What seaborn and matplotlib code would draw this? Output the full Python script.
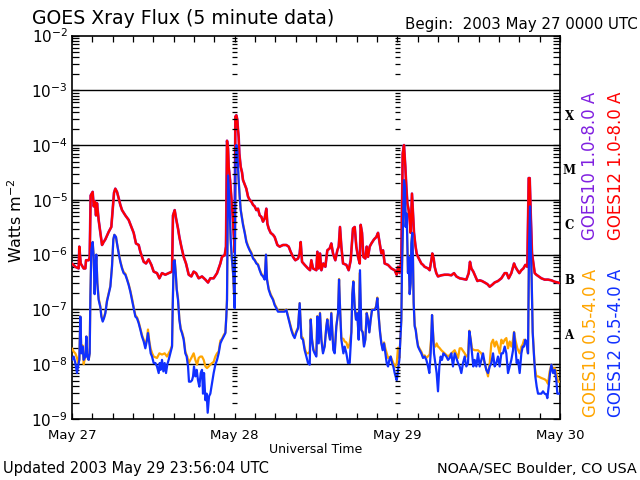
import numpy as np
import pandas as pd
import matplotlib
matplotlib.use("Agg")
import matplotlib.pyplot as plt
import matplotlib.ticker as mticker
import matplotlib.transforms as mtrans
import seaborn as sns

# ---------------- data (hours since 2003 May 27 00:00 UTC, flux W m^-2) ----------------
red_day1 = [(0.0,6.9e-7),(0.49,6.0e-7),(0.98,5.6e-7),(1.08,1.4e-6),(1.28,6.9e-7),(1.72,5.6e-7),(1.97,5.6e-7),
            (2.07,7.9e-7),(2.46,7.9e-7),(2.61,9.0e-7),(2.75,1.2e-5),(3.05,1.4e-5),(3.2,7.6e-6),(3.39,9.3e-6),
            (3.54,5.2e-6),(3.69,8.7e-6),(3.93,4.3e-6),(4.18,2.5e-6),(4.43,1.5e-6),(4.67,1.7e-6),(4.92,1.9e-6),
            (5.41,2.6e-6),(5.80,3.2e-6),(6.0,6.5e-6),(6.2,1.35e-5),(6.39,1.6e-5),(6.64,1.4e-5),(6.89,1.07e-5),
            (7.13,8.1e-6),(7.38,6.5e-6),(7.87,5.2e-6),(8.36,4.3e-6),(8.76,3.2e-6),(9.10,2.5e-6),(9.44,1.6e-6),
            (9.84,1.5e-6),(10.08,1.13e-6),(10.33,9.1e-7),(10.58,7.4e-7),(10.92,6.9e-7),(11.31,8.2e-7),(11.71,6.5e-7),
            (12.05,4.9e-7),(12.54,4.6e-7),(12.89,3.7e-7),(13.28,4.6e-7),(13.77,4.3e-7),(14.26,4.6e-7),(14.76,4.9e-7),
            (14.90,5.2e-6),(15.15,6.5e-6),(15.35,4.6e-6),(15.64,3.0e-6),(15.84,2.1e-6),(16.13,1.4e-6),(16.48,9.1e-7),
            (16.82,6.9e-7),(17.22,4.3e-7),(17.61,4.0e-7),(17.95,4.9e-7),(18.30,4.6e-7),(18.69,3.7e-7),(19.18,4.0e-7),
            (19.68,3.5e-7),(20.07,3.1e-7),(20.41,3.7e-7),(20.90,3.7e-7),(21.40,4.6e-7),(21.89,6.9e-7),(22.13,9.1e-7),
            (22.53,9.8e-7),(22.72,1.4e-6),(22.87,1.2e-4),(23.02,8.7e-5),(23.12,4.0e-5),(23.32,2.3e-5),(23.51,1.1e-5),
            (23.71,5.0e-6),(23.9,2.0e-6),(24.0,1.1e-6)]
red_day2 = [(24.10,3.3e-4),(24.25,3.5e-4),(24.39,2.9e-4),(24.49,1.9e-4),(24.59,1.4e-4),(24.69,7.0e-5),(24.89,4.0e-5),
            (25.08,3.2e-5),(25.23,2.3e-5),(25.48,1.9e-5),(25.72,1.6e-5),(25.97,1.15e-5),(26.21,1.0e-5),(26.46,9.3e-6),
            (26.71,8.1e-6),(26.95,7.6e-6),(27.2,6.5e-6),(27.44,6.9e-6),(27.69,5.2e-6),(27.94,4.9e-6),(28.18,4.0e-6),
            (28.43,4.6e-6),(28.67,6.9e-6),(28.82,3.7e-6),(29.02,3.0e-6),(29.31,2.5e-6),(29.66,2.3e-6),(29.9,2.1e-6),
            (30.3,1.5e-6),(30.64,1.4e-6),(31.13,1.5e-6),(31.62,1.5e-6),(31.97,1.4e-6),(32.26,1.13e-6),(32.61,9.1e-7),
            (32.95,7.9e-7),(33.35,8.5e-7),(33.59,1.05e-6),(33.74,1.7e-6),(33.94,7.4e-7),(34.33,6.5e-7),(34.82,5.6e-7),
            (35.12,5.2e-7),(35.31,7.9e-7),(35.56,5.6e-7),(36.05,5.2e-7),(36.2,1.13e-6),(36.4,5.6e-7),(36.59,1.05e-6),
            (36.79,5.2e-7),(37.08,6.9e-7),(37.38,6.0e-7),(37.67,1.2e-6),(38.02,1.3e-6),(38.26,1.6e-6),(38.51,1.05e-6),
            (38.85,7.9e-7),(39.15,1.2e-6),(39.35,1.4e-6),(39.54,3.2e-6),(39.74,1.4e-6),(39.99,6.9e-7),(40.48,6.5e-7),
            (40.82,5.2e-7),(41.12,7.9e-7),(41.46,3.0e-6),(41.71,3.2e-6),(41.95,1.4e-6),(42.2,9.1e-7),(42.45,6.9e-7),
            (42.59,3.5e-6),(42.79,2.5e-6),(42.99,9.1e-7),(43.28,8.5e-7),(43.48,1.4e-6),(43.68,9.1e-7),(43.92,1.4e-6),
            (44.17,1.6e-6),(44.56,1.9e-6),(44.9,2.1e-6),(45.15,2.5e-6),(45.4,1.6e-6),(45.64,1.05e-6),(45.89,1.2e-6),
            (46.13,6.9e-7),(46.62,6.5e-7),(47.12,5.6e-7),(47.61,5.2e-7),(47.9,4.3e-7),(48.0,5.0e-7)]
red_day3 = [(48.1,6.0e-7),(48.34,4.6e-7),(48.59,7.9e-7),(48.79,7.0e-5),(48.98,1.0e-4),(49.18,4.0e-5),(49.33,1.7e-5),
            (49.48,8.7e-6),(49.67,6.5e-6),(49.82,4.3e-6),(49.97,2.5e-6),(50.16,1.3e-5),(50.31,5.6e-6),(50.46,2.5e-6),
            (50.66,1.5e-6),(50.85,1.05e-6),(51.05,9.1e-7),(51.3,7.9e-7),(51.54,6.9e-7),(51.79,6.5e-7),(52.03,6.0e-7),
            (52.53,5.6e-7),(52.77,5.2e-7),(53.02,7.9e-7),(53.16,1.05e-6),(53.36,8.5e-7),(53.51,6.0e-7),(53.75,4.6e-7),
            (54.0,4.0e-7),(54.49,4.2e-7),(54.98,4.3e-7),(55.48,4.3e-7),(55.97,4.2e-7),(56.36,4.6e-7),(56.71,4.0e-7),
            (57.2,3.7e-7),(57.69,3.6e-7),(58.18,3.5e-7),(58.53,4.6e-7),(58.72,7.4e-7),(58.92,5.6e-7),(59.21,4.9e-7),
            (59.51,4.0e-7),(59.81,3.3e-7),(60.15,3.4e-7),(60.49,3.3e-7),(60.89,3.1e-7),(61.28,2.9e-7),(61.63,2.6e-7),
            (61.97,2.8e-7),(62.36,3.1e-7),(62.85,3.3e-7),(63.35,3.7e-7),(63.84,4.6e-7),(64.13,4.6e-7),(64.43,3.7e-7),
            (64.82,4.6e-7),(65.22,6.9e-7),(65.41,6.0e-7),(65.71,5.2e-7),(66.0,4.6e-7),(66.3,5.2e-7),(66.59,5.6e-7),
            (66.89,6.5e-7),(67.18,6.0e-7),(67.38,2.5e-5),(67.53,2.5e-5),(67.68,5.6e-6),(67.87,1.05e-6),(68.07,6.9e-7),
            (68.27,4.6e-7),(68.51,4.3e-7),(68.86,4.0e-7),(69.25,3.7e-7),(69.74,3.5e-7),(70.23,3.5e-7),(70.73,3.4e-7),
            (71.22,3.2e-7),(71.71,3.1e-7),(72.0,3.0e-7)]

blue_day1 = [(0.0,1.2e-8),(0.25,1.38e-8),(0.49,1.05e-8),(0.74,6.9e-9),(0.89,9.1e-9),(1.08,1.2e-8),(1.23,7.4e-8),
             (1.38,1.58e-8),(1.57,2.1e-8),(1.72,1.2e-8),(1.97,1.38e-8),(2.12,3.2e-8),(2.26,1.38e-8),(2.46,1.2e-8),
             (2.61,1.58e-8),(2.71,1.7e-7),(2.85,1.2e-6),(3.05,1.7e-6),(3.2,9.1e-7),(3.34,1.9e-7),(3.44,4.6e-7),
             (3.59,1.0e-6),(3.74,3.0e-7),(3.93,1.5e-7),(4.18,1.1e-7),(4.33,7.4e-8),(4.53,6.0e-8),(4.72,6.9e-8),
             (4.92,8.5e-8),(5.16,1.4e-7),(5.41,1.9e-7),(5.66,2.6e-7),(5.9,6.0e-7),(6.1,1.9e-6),(6.25,2.3e-6),
             (6.49,2.1e-6),(6.64,1.6e-6),(6.89,1.05e-6),(7.13,7.4e-7),(7.38,5.6e-7),(7.62,4.6e-7),(7.87,4.3e-7),
             (8.12,3.5e-7),(8.36,2.8e-7),(8.61,2.1e-7),(8.85,1.5e-7),(9.1,1.05e-7),(9.35,7.4e-8),(9.59,6.9e-8),
             (9.84,5.6e-8),(10.08,4.3e-8),(10.33,3.2e-8),(10.58,2.6e-8),(10.82,1.95e-8),(11.07,2.8e-8),(11.21,3.7e-8),
             (11.41,2.4e-8),(11.61,1.58e-8),(11.81,1.38e-8),(12.05,1.05e-8),(12.3,1.05e-8),(12.54,9.1e-9),(12.79,6.9e-9),
             (12.94,1.05e-8),(13.08,7.9e-9),(13.28,1.2e-8),(13.48,7.4e-9),(13.67,1.05e-8),(13.87,6.9e-9),(14.07,1.0e-8),
             (14.26,1.2e-8),(14.51,1.58e-8),(14.76,2.1e-8),(14.85,9.8e-8),(15.0,7.4e-7),(15.15,7.9e-7),(15.3,4.6e-7),
             (15.45,2.3e-7),(15.64,1.5e-7),(15.84,6.5e-8),(16.04,4.3e-8),(16.23,3.7e-8),(16.48,2.8e-8),(16.72,1.58e-8),
             (16.92,1.38e-8),(17.12,9.1e-9),(17.26,4.8e-9),(17.51,4.8e-9),(17.71,5.1e-9),(17.86,6.0e-9),(18.0,9.1e-9),
             (18.2,6.0e-9),(18.4,7.9e-9),(18.59,5.1e-9),(18.79,3.9e-9),(18.99,6.9e-9),(19.18,7.9e-9),(19.33,2.9e-9),
             (19.48,6.9e-9),(19.68,2.2e-9),(19.87,2.9e-9),(20.02,1.3e-9),(20.22,2.6e-9),(20.41,2.9e-9),(20.66,4.5e-9),
             (20.9,6.9e-9),(21.15,9.8e-9),(21.4,1.2e-8),(21.64,1.58e-8),(21.89,2.4e-8),(22.13,2.8e-8),(22.38,3.2e-8),
             (22.63,3.7e-8),(22.77,7.4e-8),(22.87,1.5e-7),(23.02,2.8e-5),(23.22,1.0e-5),(23.41,1.9e-6),(23.61,7.9e-7),
             (23.81,4.0e-7),(24.0,1.05e-7)]
blue_day2 = [(24.1,4.0e-5),(24.25,1.0e-4),(24.39,8.1e-5),(24.49,4.0e-5),(24.59,2.3e-5),(24.74,1.15e-5),(24.89,6.5e-6),
             (25.08,4.6e-6),(25.23,3.5e-6),(25.48,2.5e-6),(25.72,1.7e-6),(25.97,1.4e-6),(26.21,1.2e-6),(26.46,1.05e-6),
             (26.71,8.5e-7),(26.95,7.9e-7),(27.2,6.9e-7),(27.44,6.5e-7),(27.69,5.2e-7),(27.94,4.3e-7),(28.18,4.0e-7),
             (28.43,3.5e-7),(28.62,1.0e-6),(28.77,3.5e-7),(29.02,2.3e-7),(29.31,1.8e-7),(29.66,1.5e-7),(29.9,1.2e-7),
             (30.15,1.05e-7),(30.39,9.1e-8),(30.89,9.1e-8),(31.38,9.1e-8),(31.62,9.8e-8),(31.87,7.4e-8),(32.12,5.6e-8),
             (32.36,4.2e-8),(32.61,3.4e-8),(32.85,3.0e-8),(33.1,3.8e-8),(33.35,4.5e-8),(33.59,1.3e-7),(33.84,3.0e-8),
             (34.08,2.8e-8),(34.33,1.8e-8),(34.58,1.38e-8),(34.82,1.05e-8),(35.07,9.8e-9),(35.22,6.5e-8),(35.41,2.8e-8),
             (35.61,1.8e-8),(35.8,1.58e-8),(36.05,1.38e-8),(36.2,7.4e-8),(36.4,2.4e-8),(36.59,8.5e-8),(36.79,2.8e-8),
             (37.03,1.58e-8),(37.28,2.1e-8),(37.53,4.9e-8),(37.67,6.5e-8),(37.87,3.8e-8),(38.07,2.8e-8),(38.26,8.5e-8),
             (38.41,3.8e-8),(38.56,1.8e-8),(38.76,1.58e-8),(39.0,4.9e-8),(39.25,8.5e-8),(39.4,3.5e-7),(39.54,1.1e-7),
             (39.74,2.8e-8),(40.04,1.58e-8),(40.23,2.1e-8),(40.48,1.58e-8),(40.72,1.05e-8),(40.97,1.05e-8),(41.22,3.8e-8),
             (41.36,1.9e-7),(41.51,3.2e-7),(41.71,1.1e-7),(41.9,6.5e-8),(42.1,8.5e-8),(42.3,2.8e-8),(42.49,5.2e-7),
             (42.69,4.2e-8),(42.89,3.8e-8),(43.08,2.1e-8),(43.28,2.8e-8),(43.48,8.5e-8),(43.68,6.5e-8),(43.87,3.8e-8),
             (44.07,6.5e-8),(44.27,9.8e-8),(44.46,9.8e-8),(44.66,9.8e-8),(44.86,1.1e-7),(45.05,1.6e-7),(45.25,7.4e-8),
             (45.45,3.8e-8),(45.64,2.4e-8),(45.84,1.8e-8),(46.04,2.4e-8),(46.23,1.58e-8),(46.43,1.05e-8),(46.63,9.1e-9),
             (46.82,1.2e-8),(47.02,1.38e-8),(47.22,1.05e-8),(47.41,9.1e-9),(47.61,6.9e-9),(47.9,5.1e-9),(48.0,6.0e-9)]
blue_day3 = [(48.1,7.9e-9),(48.3,1.2e-8),(48.49,3.8e-8),(48.59,6.5e-8),(48.69,6.0e-7),(48.84,4.3e-6),(48.98,2.3e-5),
             (49.13,1.7e-5),(49.23,3.2e-6),(49.38,5.6e-6),(49.48,1.4e-6),(49.57,4.6e-7),(49.67,9.1e-7),(49.82,1.9e-7),
             (49.97,3.0e-7),(50.07,1.6e-6),(50.21,2.5e-6),(50.31,7.9e-7),(50.41,1.3e-7),(50.56,4.9e-8),(50.71,4.2e-8),
             (50.85,3.0e-8),(51.05,2.1e-8),(51.3,1.8e-8),(51.54,1.58e-8),(51.79,1.3e-8),(52.03,1.38e-8),(52.28,1.2e-8),
             (52.53,9.1e-9),(52.72,6.9e-9),(52.92,1.58e-8),(53.12,7.9e-8),(53.26,3.8e-8),(53.41,1.58e-8),(53.61,1.05e-8),
             (53.8,6.9e-9),(54.0,3.2e-9),(54.2,9.1e-9),(54.39,1.38e-8),(54.59,1.2e-8),(54.79,1.58e-8),(54.98,1.5e-8),
             (55.23,1.38e-8),(55.48,1.2e-8),(55.72,1.3e-8),(55.97,1.58e-8),(56.21,9.1e-9),(56.46,1.58e-8),(56.71,1.3e-8),
             (56.95,1.05e-8),(57.2,9.1e-9),(57.44,6.9e-9),(57.69,1.05e-8),(57.94,1.38e-8),(58.18,9.1e-9),(58.43,1.05e-8),
             (58.62,4.0e-8),(58.82,2.8e-8),(59.02,1.58e-8),(59.21,9.1e-9),(59.41,1.2e-8),(59.66,9.1e-9),(59.9,1.58e-8),
             (60.15,9.1e-9),(60.4,1.2e-8),(60.64,1.58e-8),(60.89,1.05e-8),(61.13,7.9e-9),(61.38,6.9e-9),(61.63,9.1e-9),
             (61.87,1.05e-8),(62.12,1.58e-8),(62.36,9.1e-9),(62.61,1.05e-8),(62.85,1.38e-8),(63.1,9.1e-9),(63.35,1.58e-8),
             (63.59,1.58e-8),(63.84,2.1e-8),(64.08,1.58e-8),(64.33,6.9e-9),(64.58,9.1e-9),(64.82,1.2e-8),(65.07,1.8e-8),
             (65.22,3.8e-8),(65.41,2.1e-8),(65.61,1.05e-8),(65.81,1.2e-8),(66.05,6.9e-9),(66.3,1.58e-8),(66.5,2.1e-8),
             (66.69,2.1e-8),(66.89,2.8e-8),(67.08,2.4e-8),(67.28,1.58e-8),(67.43,1.4e-6),(67.58,7.6e-6),(67.67,1.9e-6),
             (67.82,3.5e-7),(67.97,3.8e-8),(68.17,1.38e-8),(68.36,6.0e-9),(68.56,3.9e-9),(68.76,2.9e-9),(69.0,2.9e-9),
             (69.25,2.9e-9),(69.49,3.2e-9),(69.74,2.9e-9),(69.99,2.8e-9),(70.13,2.4e-9),(70.33,3.9e-9),(70.53,6.9e-9),
             (70.73,9.8e-9),(70.97,6.9e-9),(71.22,7.9e-9),(71.46,5.1e-9),(71.61,2.9e-9),(71.8,2.9e-9),(72.0,2.9e-9)]

orange_day1 = [(0.0,1.95e-8),(0.25,1.7e-8),(0.49,1.58e-8),(0.74,1.3e-8),(0.89,1.05e-8),(1.08,1.2e-8),(1.23,7.4e-8),
               (1.38,1.7e-8),(1.57,2.2e-8),(1.72,1.0e-8),(1.97,1.4e-8),(2.12,3.2e-8),(2.26,1.4e-8),(2.46,1.2e-8),
               (2.61,1.6e-8),(2.71,1.7e-7),(2.85,1.2e-6),(3.05,1.7e-6),(3.2,9.1e-7),(3.34,2.0e-7),(3.44,4.6e-7),
               (3.59,1.0e-6),(3.74,3.1e-7),(3.93,1.6e-7),(4.18,1.15e-7),(4.33,7.8e-8),(4.53,6.3e-8),(4.72,7.2e-8),
               (4.92,8.8e-8),(5.16,1.45e-7),(5.41,2.0e-7),(5.66,2.7e-7),(5.9,6.2e-7),(6.1,1.9e-6),(6.25,2.3e-6),
               (6.49,2.1e-6),(6.64,1.6e-6),(6.89,1.1e-6),(7.13,7.6e-7),(7.38,5.8e-7),(7.62,4.8e-7),(7.87,4.5e-7),
               (8.12,3.6e-7),(8.36,2.9e-7),(8.61,2.2e-7),(8.85,1.6e-7),(9.1,1.1e-7),(9.35,7.8e-8),(9.59,7.2e-8),
               (9.84,5.9e-8),(10.08,4.5e-8),(10.33,3.4e-8),(10.58,2.8e-8),(10.82,2.2e-8),(11.07,3.0e-8),(11.21,4.3e-8),
               (11.41,2.6e-8),(11.61,1.9e-8),(11.81,1.6e-8),(12.05,1.38e-8),(12.54,1.3e-8),(12.89,1.58e-8),(13.28,1.5e-8),
               (13.67,1.58e-8),(14.02,1.38e-8),(14.26,1.58e-8),(14.51,1.8e-8),(14.76,2.2e-8),(14.85,1.0e-7),(15.0,7.6e-7),
               (15.15,8.1e-7),(15.3,4.8e-7),(15.45,2.4e-7),(15.64,1.6e-7),(15.84,6.8e-8),(16.04,4.5e-8),(16.23,3.9e-8),
               (16.48,3.0e-8),(16.72,1.7e-8),(16.82,1.58e-8),(17.0,1.38e-8),(17.22,1.05e-8),(17.46,1.2e-8),(17.71,1.38e-8),
               (17.95,1.58e-8),(18.2,1.2e-8),(18.45,9.8e-9),(18.69,1.3e-8),(18.94,1.38e-8),(19.18,1.38e-8),(19.43,1.2e-8),
               (19.68,9.1e-9),(19.92,8.5e-9),(20.17,9.1e-9),(20.41,9.8e-9),(20.66,1.05e-8),(20.9,1.1e-8),(21.15,1.38e-8),
               (21.4,1.58e-8),(21.64,1.7e-8),(21.89,2.7e-8),(22.13,2.9e-8),(22.38,3.4e-8),(22.63,3.8e-8),(22.77,7.6e-8),
               (22.87,1.5e-7),(23.02,2.8e-5),(23.22,1.0e-5),(23.41,1.9e-6),(23.51,1.05e-6),(23.75,4.8e-7),(24.0,1.1e-7)]
orange_day2 = [(24.1,4.0e-5),(24.25,1.0e-4),(24.39,8.1e-5),(24.49,4.0e-5),(24.59,2.3e-5),(24.74,1.15e-5),(24.89,6.7e-6),
               (25.08,4.8e-6),(25.23,3.7e-6),(25.48,2.6e-6),(25.72,1.8e-6),(25.97,1.45e-6),(26.21,1.25e-6),(26.46,1.1e-6),
               (26.71,8.8e-7),(26.95,8.1e-7),(27.2,7.1e-7),(27.44,6.7e-7),(27.69,5.4e-7),(27.94,4.5e-7),(28.18,4.1e-7),
               (28.43,3.6e-7),(28.62,1.0e-6),(28.77,3.6e-7),(29.02,2.4e-7),(29.31,1.9e-7),(29.66,1.55e-7),(29.9,1.25e-7),
               (30.15,1.1e-7),(30.39,9.4e-8),(30.89,9.4e-8),(31.38,9.4e-8),(31.62,1.0e-7),(31.87,7.6e-8),(32.12,5.8e-8),
               (32.36,4.5e-8),(32.61,3.6e-8),(32.85,3.2e-8),(33.1,4.0e-8),(33.35,4.7e-8),(33.59,1.3e-7),(33.84,3.2e-8),
               (34.08,3.0e-8),(34.33,1.95e-8),(34.58,1.58e-8),(34.82,1.58e-8),(35.07,1.7e-8),(35.22,6.7e-8),(35.41,2.9e-8),
               (35.61,1.9e-8),(35.8,1.7e-8),(36.05,1.5e-8),(36.2,7.6e-8),(36.4,2.5e-8),(36.59,8.7e-8),(36.79,2.9e-8),
               (37.03,1.7e-8),(37.28,2.2e-8),(37.53,5.0e-8),(37.67,6.7e-8),(37.87,3.9e-8),(38.07,2.9e-8),(38.26,8.7e-8),
               (38.41,3.9e-8),(38.56,1.9e-8),(38.76,1.7e-8),(39.0,5.0e-8),(39.25,8.7e-8),(39.4,3.6e-7),(39.54,1.15e-7),
               (39.74,3.0e-8),(40.04,2.9e-8),(40.23,2.6e-8),(40.48,2.5e-8),(40.72,2.0e-8),(40.97,2.4e-8),(41.22,3.9e-8),
               (41.36,1.9e-7),(41.51,3.3e-7),(41.71,1.15e-7),(41.9,6.7e-8),(42.1,8.7e-8),(42.3,2.9e-8),(42.44,4.6e-7),
               (42.69,4.3e-8),(42.89,3.9e-8),(43.08,2.2e-8),(43.28,2.9e-8),(43.48,8.7e-8),(43.68,6.7e-8),(43.87,3.9e-8),
               (44.07,6.7e-8),(44.27,1.0e-7),(44.46,1.0e-7),(44.66,1.0e-7),(44.86,1.15e-7),(45.05,1.65e-7),(45.25,7.6e-8),
               (45.45,3.9e-8),(45.64,2.5e-8),(45.84,1.9e-8),(46.04,2.5e-8),(46.23,1.95e-8),(46.63,1.3e-8),(47.02,1.38e-8),
               (47.41,1.05e-8),(47.61,9.1e-9),(47.9,1.0e-8)]
orange_day3 = [(48.1,2.0e-8),(48.3,1.3e-8),(48.49,3.9e-8),(48.59,6.7e-8),(48.69,6.2e-7),(48.84,4.4e-6),(48.98,2.3e-5),
               (49.13,1.7e-5),(49.23,3.3e-6),(49.38,5.7e-6),(49.48,1.45e-6),(49.57,4.8e-7),(49.67,9.3e-7),(49.82,2.0e-7),
               (49.97,3.1e-7),(50.07,1.65e-6),(50.21,2.5e-6),(50.31,8.1e-7),(50.41,1.35e-7),(50.56,5.2e-8),(50.71,4.4e-8),
               (50.85,3.2e-8),(51.05,2.2e-8),(51.3,1.9e-8),(51.54,1.7e-8),(51.79,1.4e-8),(52.03,1.45e-8),(52.28,1.3e-8),
               (52.53,1.4e-8),(52.77,1.5e-8),(53.02,3.2e-8),(53.12,7.9e-8),(53.26,3.9e-8),(53.41,2.2e-8),(53.61,2.1e-8),
               (53.8,2.4e-8),(54.0,2.1e-8),(54.2,2.0e-8),(54.49,1.8e-8),(54.98,1.58e-8),(55.48,1.38e-8),(55.97,1.58e-8),
               (56.46,1.8e-8),(56.95,1.3e-8),(57.2,1.95e-8),(57.44,1.95e-8),(57.94,1.58e-8),(58.18,1.38e-8),(58.43,1.5e-8),
               (58.62,4.1e-8),(58.82,2.9e-8),(59.02,1.9e-8),(59.41,1.8e-8),(59.9,1.8e-8),(60.4,1.58e-8),(60.89,1.05e-8),
               (61.38,6.0e-9),(61.63,1.05e-8),(61.87,2.4e-8),(62.12,2.8e-8),(62.36,2.1e-8),(62.61,2.6e-8),(62.85,2.1e-8),
               (63.1,1.58e-8),(63.35,2.8e-8),(63.59,2.4e-8),(63.84,2.8e-8),(64.08,3.0e-8),(64.33,1.95e-8),(64.58,2.6e-8),
               (64.82,2.1e-8),(65.07,2.8e-8),(65.22,3.9e-8),(65.41,2.8e-8),(65.71,1.95e-8),(66.05,1.58e-8),(66.3,2.1e-8),
               (66.5,2.3e-8),(66.69,2.8e-8),(66.89,2.6e-8),(67.08,2.4e-8),(67.28,1.58e-8),(67.43,1.4e-6),(67.58,7.6e-6),
               (67.67,1.9e-6),(67.82,3.6e-7),(67.97,4.0e-8),(68.17,1.5e-8),(68.27,9.1e-9),(68.51,6.0e-9),(68.76,6.0e-9),
               (69.25,5.6e-9),(69.74,5.3e-9),(69.99,5.0e-9),(70.23,4.4e-9),(70.48,7.4e-9),(70.73,9.8e-9),(70.97,8.1e-9),
               (71.22,8.5e-9),(71.46,6.9e-9),(71.71,4.8e-9),(72.0,4.8e-9)]

day_labels = ["May 27", "May 28", "May 29", "May 30"]
flare_classes = ["X", "M", "C", "B", "A"]
legend_upper = ["GOES10 1.0-8.0 A", "GOES12 1.0-8.0 A"]
legend_lower = ["GOES10 0.5-4.0 A", "GOES12 0.5-4.0 A"]

# ---------------- styling ----------------
RED = "#ff0000"
PURPLE = "#8020e0"
ORANGE = "#ffa500"
BLUE = "#1030ff"

sns.set_style("white")
plt.rcParams["font.family"] = ["DejaVu Sans"]
plt.rcParams["axes.linewidth"] = 1.2
for k in ("text.color", "axes.labelcolor", "xtick.color", "ytick.color", "axes.edgecolor"):
    plt.rcParams[k] = "black"

W, H = 640, 480
fig = plt.figure(figsize=(6.4, 4.8), dpi=100)
ax = fig.add_axes([72 / W, 1 - 419 / H, 488 / W, (419 - 35.5) / H])
ax.set_yscale("log")


def frame(parts):
    pts = [p for part in parts for p in part]
    return pd.DataFrame(pts, columns=["hour", "flux"])


df_red = frame([red_day1, red_day2, red_day3])
df_blue = frame([blue_day1, blue_day2, blue_day3])
df_orange = frame([orange_day1, orange_day2, orange_day3])

# decade grid lines
for e in range(-8, -2):
    ax.axhline(10.0 ** e, color="black", lw=1.0, zorder=1)

sns.lineplot(data=df_red, x="hour", y="flux", color=PURPLE, lw=1.9, estimator=None, sort=False, ax=ax, zorder=3)
sns.lineplot(data=df_red, x="hour", y="flux", color=RED, lw=1.6, estimator=None, sort=False, ax=ax, zorder=4)
sns.lineplot(data=df_orange, x="hour", y="flux", color=ORANGE, lw=1.6, estimator=None, sort=False, ax=ax, zorder=3)
sns.lineplot(data=df_blue, x="hour", y="flux", color=BLUE, lw=1.6, estimator=None, sort=False, ax=ax, zorder=4)

ax.set_xlim(0, 72)
ax.set_ylim(1e-9, 1e-2)
ax.set_xlabel("")
ax.set_ylabel("")

ax.xaxis.set_major_locator(mticker.FixedLocator([0, 24, 48, 72]))
ax.xaxis.set_major_formatter(mticker.FixedFormatter(day_labels))
ax.xaxis.set_minor_locator(mticker.MultipleLocator(3))
ax.xaxis.set_minor_formatter(mticker.NullFormatter())
ax.tick_params(axis="x", which="both", direction="in", top=True, bottom=True,
               length=4, width=0.9, labelsize=9.5, pad=7)
ax.yaxis.set_major_locator(mticker.LogLocator(base=10, numticks=20))
ax.yaxis.set_minor_locator(mticker.LogLocator(base=10, subs=np.arange(2, 10), numticks=20))
ax.yaxis.set_minor_formatter(mticker.NullFormatter())
ax.tick_params(axis="y", which="both", direction="in", left=True, right=True,
               length=5, width=0.9, labelsize=11, pad=3)

# day-boundary tick marks
minor_vals = [k * 10.0 ** e for e in range(-9, -2) for k in range(2, 10)]
for d in (24, 48):
    ax.hlines(minor_vals, d - 0.37, d + 0.37, color="black", lw=0.9, zorder=5)

# flare class letters
tr = mtrans.blended_transform_factory(ax.transAxes, ax.transData)
for i, c in enumerate(flare_classes):
    ax.text(1.0185, 10.0 ** (-3.47 - i), c, transform=tr, ha="center", va="center",
            fontsize=8.5, fontweight="bold", family="DejaVu Serif", color="black")


def fx(x):
    return x / W


def fy(y):
    return 1 - y / H


fig.text(fx(32), fy(24), "GOES Xray Flux (5 minute data)", fontsize=13.6, va="baseline", ha="left")
fig.text(fx(638), fy(29), "Begin:  2003 May 27 0000 UTC", fontsize=10.8, va="baseline", ha="right")
fig.text(fx(16), fy(221), "Watts m$^{-2}$", rotation=90, fontsize=11.5, ha="center", va="center")
fig.text(fx(316), fy(453), "Universal Time", fontsize=9, ha="center", va="baseline")
fig.text(fx(3), fy(473), "Updated 2003 May 29 23:56:04 UTC", fontsize=10.5, ha="left", va="baseline")
fig.text(fx(637), fy(473), "NOAA/SEC Boulder, CO USA", fontsize=10.4, ha="right", va="baseline")

fig.text(fx(590), fy(240), legend_upper[0], rotation=90, color=PURPLE, fontsize=12, ha="center", va="bottom")
fig.text(fx(616), fy(240), legend_upper[1], rotation=90, color=RED, fontsize=12, ha="center", va="bottom")
fig.text(fx(591), fy(417), legend_lower[0], rotation=90, color=ORANGE, fontsize=12, ha="center", va="bottom")
fig.text(fx(616), fy(417), legend_lower[1], rotation=90, color=BLUE, fontsize=12, ha="center", va="bottom")

fig.savefig("out.png", dpi=100, facecolor="white")
